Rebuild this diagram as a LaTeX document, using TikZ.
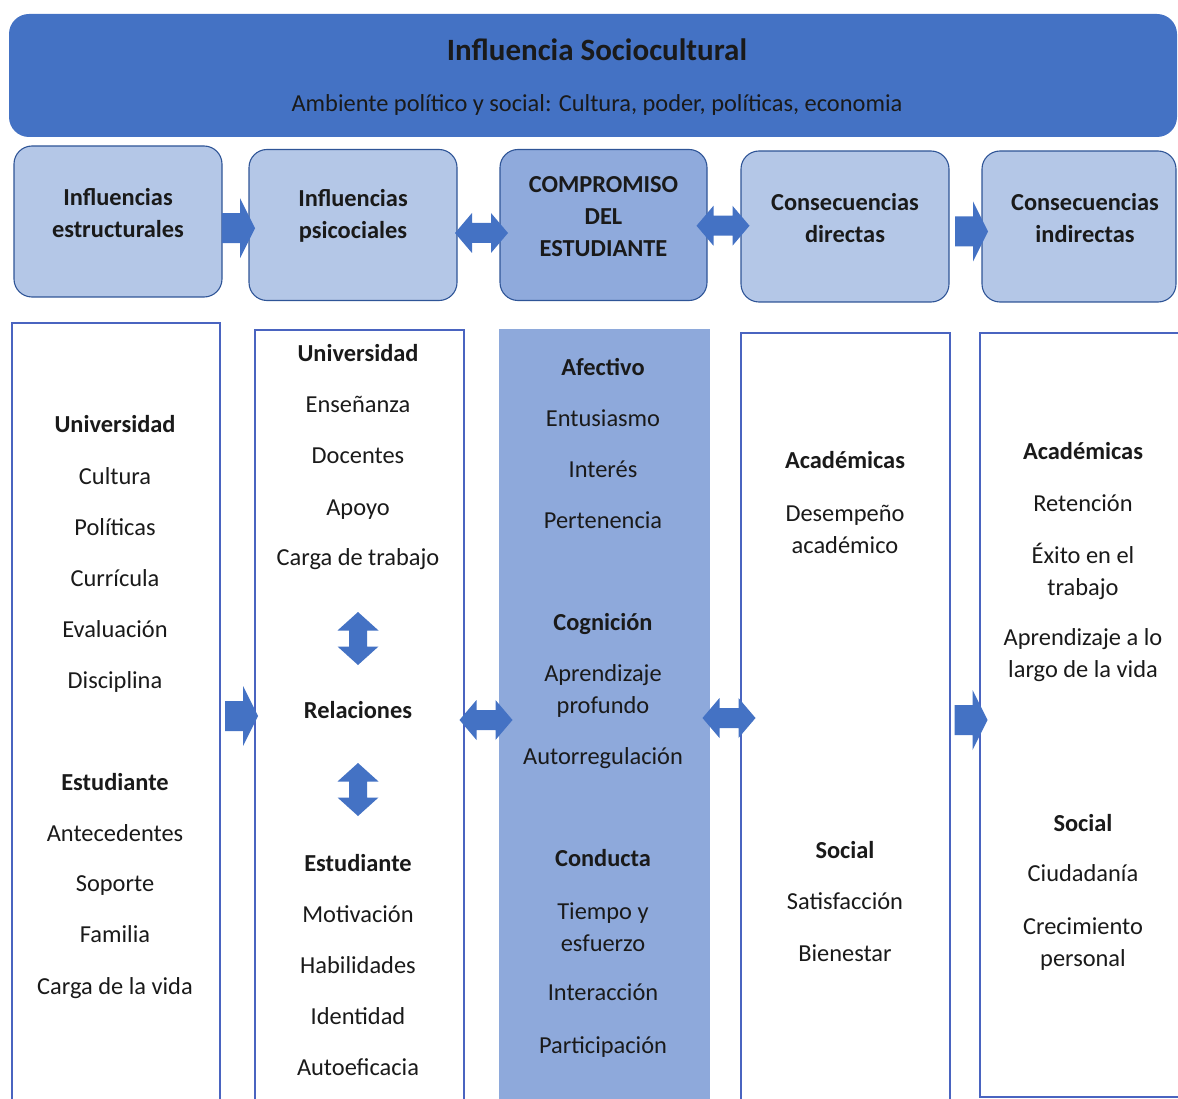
\documentclass[tikz,border=0pt]{standalone}
\usepackage{fontspec}
\setmainfont{Carlito}
\usetikzlibrary{calc}

\definecolor{bannerblue}{HTML}{4472C4}
\definecolor{headfill}{HTML}{B4C7E7}
\definecolor{headcore}{HTML}{8FAADC}
\definecolor{headline}{HTML}{2F5597}
\definecolor{colline}{HTML}{4A64C0}
\definecolor{corefill}{HTML}{8EA9DB}
\definecolor{arrowblue}{HTML}{4472C4}
\definecolor{ink}{HTML}{1A1A1A}

\begin{document}
\begin{tikzpicture}[x=1pt,y=-1pt,
  txt/.style={font=\fontsize{24.4}{32}\selectfont, text=ink, inner sep=0pt, align=center},
  item/.style={txt, text height=16pt, text depth=0pt},
  hdtext/.style={txt, font=\fontsize{24.4}{32}\selectfont\bfseries},
  hdbox/.style={draw=headline, line width=1.1pt, fill=headfill, rounded corners=18pt,
    minimum width=208pt, minimum height=151pt, inner sep=0pt},
  colbox/.style={draw=colline, line width=1.1pt, fill=white, minimum width=208pt, inner sep=0pt},
  rarrow/.pic={\fill[arrowblue] (-16.5,-15) -- (1.5,-15) -- (1.5,-30) -- (16.5,0)
     -- (1.5,30) -- (1.5,15) -- (-16.5,15) -- cycle;},
  darrow/.pic={\fill[arrowblue] (-26.5,0) -- (-9.5,-20) -- (-9.5,-10) -- (9.5,-10)
     -- (9.5,-20) -- (26.5,0) -- (9.5,20) -- (9.5,10) -- (-9.5,10) -- (-9.5,20) -- cycle;},
  vdarrow/.pic={\fill[arrowblue] (0,-26.5) -- (20.5,-8) -- (9,-8) -- (9,8) -- (20.5,8)
     -- (0,26.5) -- (-20.5,8) -- (-9,8) -- (-9,-8) -- (-20.5,-8) -- cycle;}
]
\useasboundingbox (0,0) rectangle (1178,1099);
\clip (0,0) rectangle (1178,1099);

% banner
\node[fill=bannerblue, rounded corners=20pt, minimum width=1168pt, minimum height=123pt,
  inner sep=0pt] (banner) at (593,75.5) {};
\node[txt, font=\fontsize{31}{36}\selectfont\bfseries] (title) at (597,50) {Influencia Sociocultural};
\node[txt] (subtitle) at (597,105) {Ambiente político y social: Cultura, poder, políticas, economia};

% header boxes
\node[hdbox] (h1) at (118,221.5) {};
\node[hdbox] (h2) at (353,225) {};
\node[hdbox, fill=headcore, minimum width=207pt] (h3) at (603.5,225) {};
\node[hdbox] (h4) at (845,226.5) {};
\node[hdbox, minimum width=194pt] (h5) at (1079,226.5) {};

\node[hdtext] at (118,213) {Influencias\\estructurales};
\node[hdtext] at (353,216) {Influencias\\psicociales};
\node[hdtext] at (603.5,217) {COMPROMISO\\DEL\\ESTUDIANTE};
\node[hdtext] at (845,218) {Consecuencias\\directas};
\node[hdtext] at (1085,218) {Consecuencias\\indirectas};

% arrows between header boxes
\pic at ($(h1.east)!.5!(h2.west)+(3,5)$) {rarrow};
\pic at ($(h2.east)!.5!(h3.west)+(3,8)$) {darrow};
\pic at ($(h3.east)!.5!(h4.west)+(-1,0)$) {darrow};
\pic at ($(h4.east)!.5!(h5.west)+(6,5)$) {rarrow};

% columns
\node[colbox, minimum height=797pt] (c1) at (116,721.5) {};
\node[colbox, minimum height=790pt, minimum width=209pt] (c2) at (359.5,725) {};
\node[colbox, minimum height=790pt, minimum width=209pt, fill=corefill, draw=corefill] (c3) at (604.5,725) {};
\node[colbox, minimum height=787pt, minimum width=209pt] (c4) at (845.5,726.5) {};
\node[colbox, minimum height=764pt, minimum width=210pt] (c5) at (1085,715) {};

\coordinate (rowlow) at (0,718);
\path ($(c1.east)!.5!(c2.west)$) coordinate (m12);
\path ($(c2.east)!.5!(c3.west)$) coordinate (m23);
\path ($(c3.east)!.5!(c4.west)$) coordinate (m34);
\path ($(c4.east)!.5!(c5.west)$) coordinate (m45);

% column 1
\foreach \t/\yy [count=\i] in {{\textbf{Universidad}}/424, Cultura/476, Políticas/527,
  Currícula/578, Evaluación/629, Disciplina/680, {\textbf{Estudiante}}/782,
  Antecedentes/833, Soporte/883, Familia/934, Carga de la vida/986}
  \node[item] (a\i) at (115,\yy) {\t};

% column 2
\foreach \t/\yy [count=\i] in {{\textbf{Universidad}}/353, Enseñanza/404, Docentes/455,
  Apoyo/507, Carga de trabajo/557, {\textbf{Relaciones}}/710, {\textbf{Estudiante}}/863,
  Motivación/914, Habilidades/965, Identidad/1016, Autoeficacia/1067}
  \node[item] (b\i) at (358,\yy) {\t};
\pic at ($(b5)!.5!(b6)+(0,5)$) {vdarrow};
\pic at ($(b6)!.5!(b7)+(0,3)$) {vdarrow};

% column 3
\foreach \t/\yy [count=\i] in {{\textbf{Afectivo}}/367, Entusiasmo/418, Interés/469,
  Pertenencia/520, {\textbf{Cognición}}/622, Autorregulación/756, {\textbf{Conducta}}/858,
  Interacción/992, Participación/1045}
  \node[item] (k\i) at (603,\yy) {\t};
\node[txt] (k10) at (603,691) {Aprendizaje\\profundo};
\node[txt] (k11) at (603,927) {Tiempo y\\esfuerzo};

% column 4
\foreach \t/\yy [count=\i] in {{\textbf{Académicas}}/460, {\textbf{Social}}/850,
  Satisfacción/901, Bienestar/953}
  \node[item] (d\i) at (845,\yy) {\t};
\node[txt] (d5) at (845,529) {Desempeño\\académico};

% column 5
\foreach \t/\yy [count=\i] in {{\textbf{Académicas}}/451, Retención/503,
  {\textbf{Social}}/823, Ciudadanía/873}
  \node[item] (e\i) at (1083,\yy) {\t};
\node[txt] (e5) at (1083,571.5) {Éxito en el\\trabajo};
\node[txt] (e6) at (1083,655) {Aprendizaje a lo\\largo de la vida};
\node[txt] (e7) at (1083,944) {Crecimiento\\personal};

% arrows between columns
\pic at ($(m12 |- rowlow)+(4,-2)$) {rarrow};
\pic at ($(m23 |- rowlow)+(4,2)$) {darrow};
\pic at ($(m34 |- rowlow)+(4,0)$) {darrow};
\pic at ($(m45 |- rowlow)+(6,2)$) {rarrow};
\end{tikzpicture}
\end{document}
